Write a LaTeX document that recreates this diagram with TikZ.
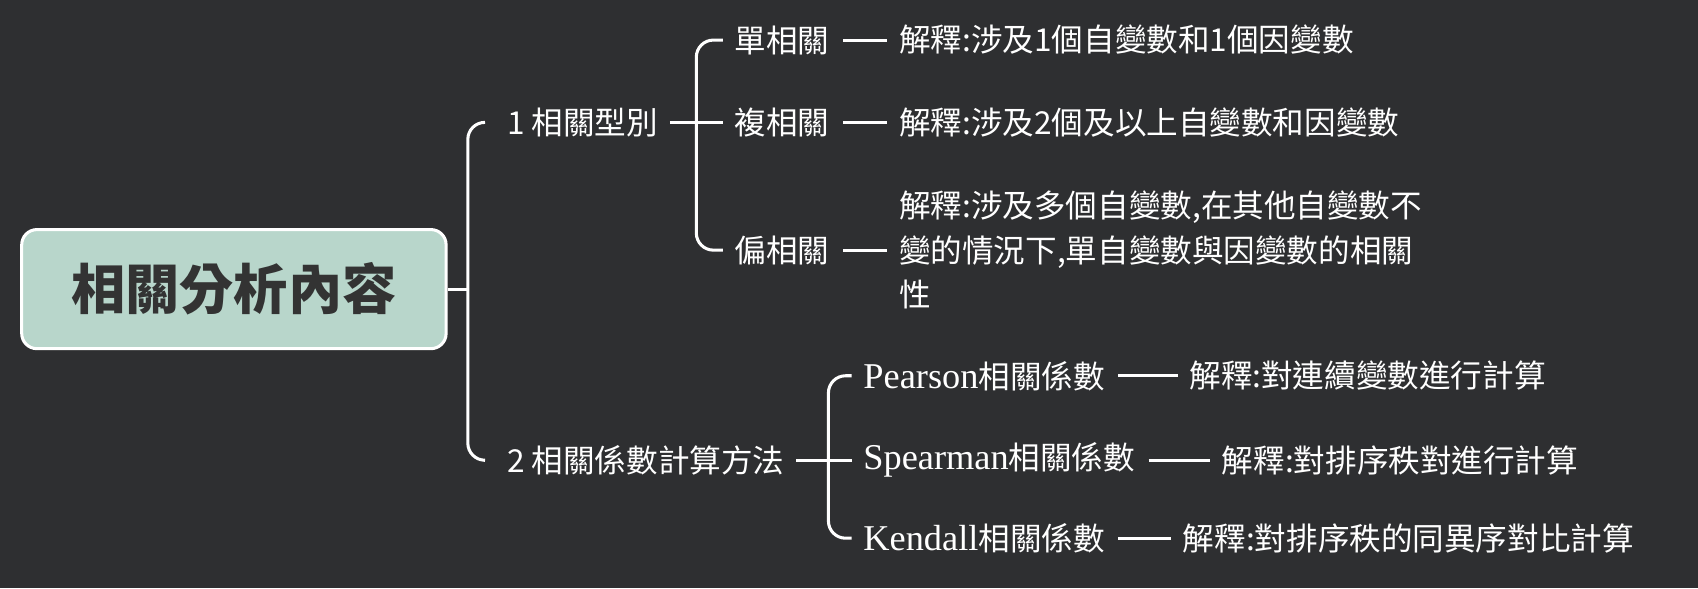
\documentclass[tikz,border=0pt]{standalone}
\usepackage{fontspec}
\setmainfont{Noto Sans CJK TC}
\newfontfamily\latin{Liberation Serif}[Scale=1.15]
\definecolor{bgdark}{HTML}{2E2F31}
\definecolor{rootfill}{HTML}{B8D6CB}
\begin{document}
\begin{tikzpicture}[x=0.02cm, y=-0.02cm,
  every node/.style={text=white, inner sep=0pt, font=\fontsize{16.6}{23}\selectfont},
  leaf/.style={anchor=west},
  link/.style={draw=white, line width=1.6pt},
  bracket/.style={link, rounded corners=9pt}]
\fill[bgdark] (0,0) rectangle (1568,543);
\useasboundingbox (0,0) rectangle (1568,543);

\node[draw=white, line width=1.6pt, fill=rootfill, rounded corners=8pt,
  text=black!80, font=\fontsize{28.5}{30}\selectfont\bfseries,
  minimum width=7.84cm, minimum height=2.2cm] (root) at (216,267) {相關分析內容};

% first level
\node[leaf] (type) at (468,113) {1 相關型別};
\node[leaf] (calc) at (468,425) {2 相關係數計算方法};
\coordinate (fork) at (432,267);
\draw[link] (root.east) -- (fork);
\draw[bracket] ([xshift=-12pt]type.west) -| (fork) |- ([xshift=-12pt]calc.west);

% correlation types
\node[leaf] (single) at (678,37) {單相關};
\node[leaf] (multi) at (678,113) {複相關};
\node[leaf] (partial) at (678,231) {偏相關};
\node[leaf] (singleX) at (830,37) {解釋:涉及1個自變數和1個因變數};
\node[leaf] (multiX) at (830,113) {解釋:涉及2個及以上自變數和因變數};
\node[leaf, align=left, text width=10.5cm, font=\fontsize{16.6}{23.5}\selectfont] (partialX) at (830,231)
  {解釋:涉及多個自變數,在其他自變數不\\變的情況下,單自變數與因變數的相關\\性};
\draw[link] ([xshift=6pt]type.east) -- ([xshift=-6pt]type.east -| multi.west);
\draw[bracket] ([xshift=-6pt]single.west) -| (643,113) |- ([xshift=-6pt]partial.west);
\foreach \a/\b in {single/singleX, multi/multiX, partial/partialX}
  \draw[link, shorten <=7pt, shorten >=6pt] (\a.east) -- (\a.east -| \b.west);

% calculation methods
\node[leaf] (pearson) at (797,347) {{\latin Pearson}相關係數};
\node[leaf] (spearman) at (797,425) {{\latin Spearman}相關係數};
\node[leaf] (kendall) at (797,497) {{\latin Kendall}相關係數};
\node[leaf] (pearsonX) at (1098,347) {解釋:對連續變數進行計算};
\node[leaf] (spearmanX) at (1128,425) {解釋:對排序秩對進行計算};
\node[leaf] (kendallX) at (1092,497) {解釋:對排序秩的同異序對比計算};
\draw[link] ([xshift=6pt]calc.east) -- ([xshift=-6pt]calc.east -| spearman.west);
\draw[bracket] ([xshift=-6pt]pearson.west) -| (765,425) |- ([xshift=-6pt]kendall.west);
\foreach \a/\b in {pearson/pearsonX, spearman/spearmanX, kendall/kendallX}
  \draw[link, shorten <=7pt, shorten >=6pt] (\a.east) -- (\a.east -| \b.west);
\end{tikzpicture}
\end{document}
